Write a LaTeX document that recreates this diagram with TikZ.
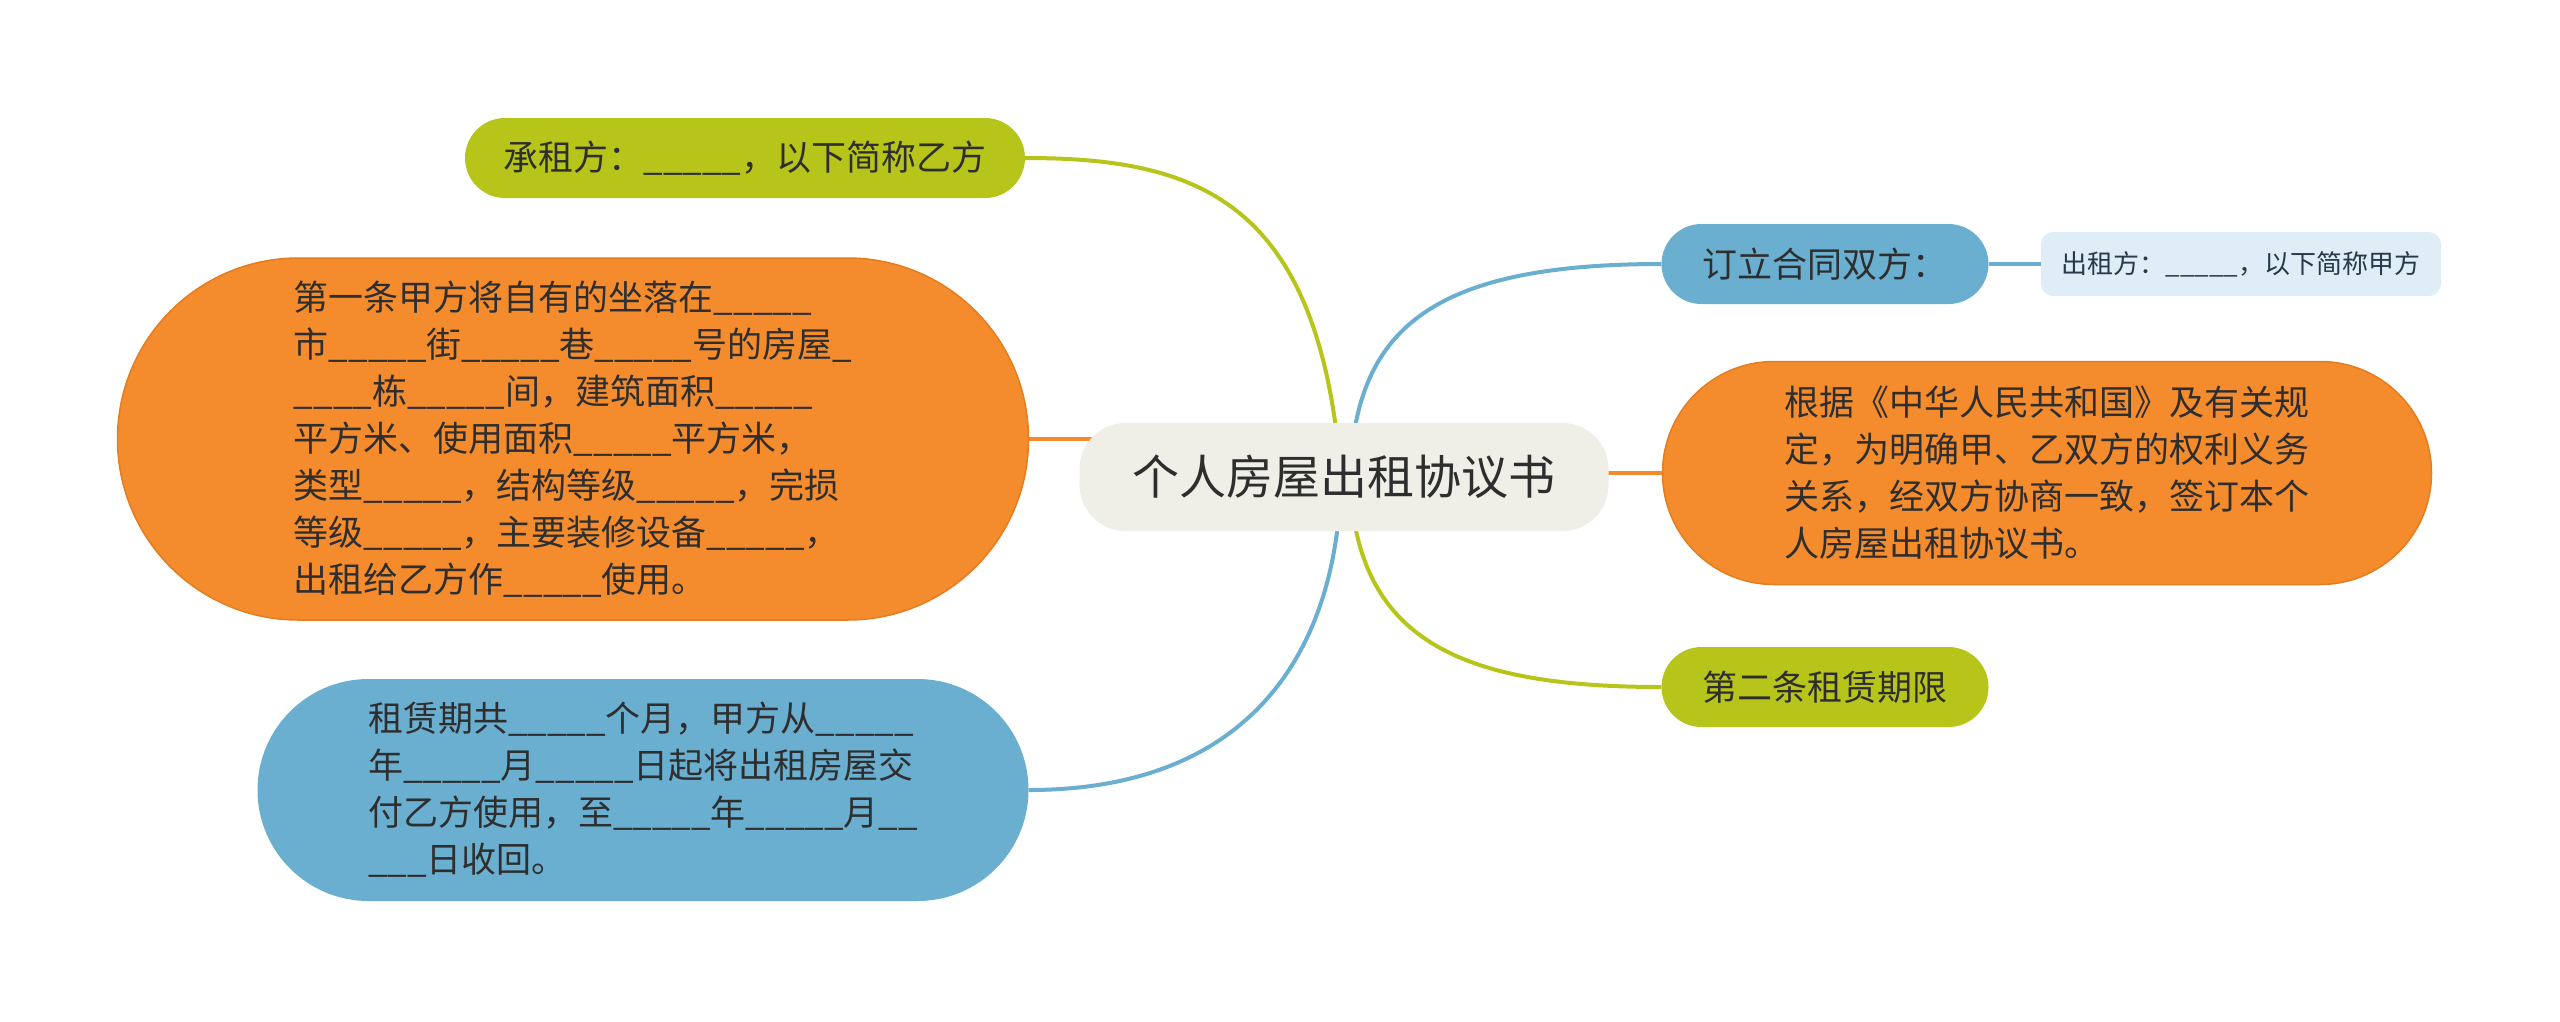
\documentclass[tikz,border=0pt]{standalone}
\usepackage{fontspec}
\newfontfamily\cjk{Noto Sans CJK SC}
\usetikzlibrary{shapes.misc,backgrounds}

\definecolor{mmgreen}{HTML}{B7C41A}
\definecolor{mmorange}{HTML}{F48C2E}
\definecolor{mmorangeedge}{HTML}{E57C1E}
\definecolor{mmblue}{HTML}{6AAED0}
\definecolor{mmroot}{HTML}{EFEFE8}
\definecolor{mmleaf}{HTML}{DFEEF6}
\definecolor{mmink}{HTML}{2E2E2E}
\definecolor{mmleafink}{HTML}{27394A}

\newcommand{\blank}{\_\_\_\_\_}

\tikzset{
  rootbox/.style={rectangle, rounded corners=46, fill=mmroot, inner sep=0pt,
    minimum width=529, minimum height=108, text=mmink,
    font=\cjk\fontsize{47}{56}\selectfont},
  topicbox/.style={rounded rectangle, inner sep=0pt, text=mmink,
    align=left, font=\cjk\fontsize{35}{47}\selectfont},
  leafbox/.style={rectangle, rounded corners=12, fill=mmleaf, inner sep=0pt,
    minimum width=400, minimum height=64, text=mmleafink,
    font=\cjk\fontsize{26}{32}\selectfont},
  branch/.style={line width=4pt}
}

\begin{document}
\begin{tikzpicture}[x=1pt,y=1pt]
  \useasboundingbox (0,0) rectangle (2560,-1021);

  % 中心主题
  \node[rootbox] (root) at (1344,-477) {个人房屋出租协议书};

  % 左侧分支
  \node[topicbox, fill=mmgreen, minimum width=560, minimum height=80]
    (tenant) at (745,-158) {承租方：\blank，以下简称乙方};
  \node[topicbox, fill=mmorange, draw=mmorangeedge, line width=1.5pt,
    minimum width=911, minimum height=362] (clauseone) at (573,-439)
    {第一条甲方将自有的坐落在\blank\\
     市\blank 街\blank 巷\blank 号的房屋\_\\
     \_\_\_\_栋\blank 间，建筑面积\blank\\
     平方米、使用面积\blank 平方米，\\
     类型\blank，结构等级\blank，完损\\
     等级\blank，主要装修设备\blank，\\
     出租给乙方作\blank 使用。};
  \node[topicbox, fill=mmblue, minimum width=771, minimum height=222]
    (term) at (643,-790)
    {租赁期共\blank 个月，甲方从\blank\\
     年\blank 月\blank 日起将出租房屋交\\
     付乙方使用，至\blank 年\blank 月\_\_\\
     \_\_\_日收回。};

  % 右侧分支
  \node[topicbox, fill=mmblue, minimum width=327, minimum height=80]
    (parties) at (1825,-264) {订立合同双方：};
  \node[leafbox] (lessor) at (2241,-264) {出租方：\blank，以下简称甲方};
  \node[topicbox, fill=mmorange, draw=mmorangeedge, line width=1.5pt,
    minimum width=769, minimum height=223] (basis) at (2047,-473)
    {根据《中华人民共和国》及有关规\\
     定，为明确甲、乙双方的权利义务\\
     关系，经双方协商一致，签订本个\\
     人房屋出租协议书。};
  \node[topicbox, fill=mmgreen, minimum width=327, minimum height=80]
    (clausetwo) at (1825,-687) {第二条租赁期限};

  % 连线
  \begin{pgfonlayer}{background}
    \draw[branch, mmgreen] ([xshift=-3pt]root.center)
      .. controls +(-21,277) and +(173,0) .. (tenant.east);
    \draw[branch, mmblue] ([xshift=6pt]root.center)
      .. controls +(5,147) and +(-232,0) .. (parties.west);
    \draw[branch, mmblue] ([xshift=-3pt]root.center)
      .. controls +(-3,-173) and +(223,0) .. (term.east);
    \draw[branch, mmgreen] ([xshift=6pt]root.center)
      .. controls +(5,-163) and +(-202,0) .. (clausetwo.west);
    \draw[branch, mmorange] (clauseone.east) -- (clauseone.east -| root.center);
    \draw[branch, mmorange] (basis.west) -- (basis.west -| root.center);
    \draw[branch, mmblue] (parties.east) -- (lessor.west);
  \end{pgfonlayer}
\end{tikzpicture}
\end{document}
